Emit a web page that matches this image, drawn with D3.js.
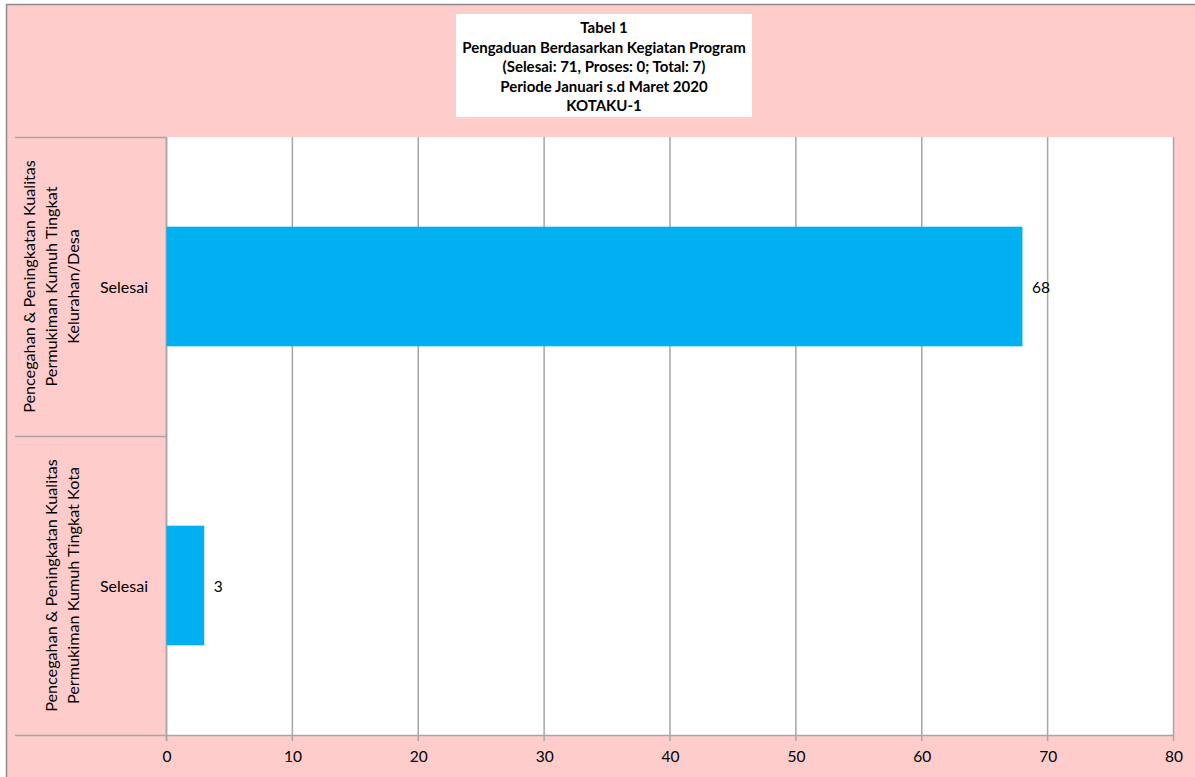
<!DOCTYPE html>
<html>
<head>
<meta charset="utf-8">
<script src="https://cdn.jsdelivr.net/npm/d3@7"></script>
<style>
  html, body { margin: 0; padding: 0; background: #ffffff; }
  svg { display: block; font-family: Lato, "Open Sans", sans-serif; }
</style>
</head>
<body>
<svg id="chart" width="1195" height="777"></svg>
<script>
// ---- Data ----
const titleLines = [
  "Tabel 1",
  "Pengaduan Berdasarkan Kegiatan Program",
  "(Selesai: 71, Proses: 0; Total: 7)",
  "Periode Januari s.d Maret 2020",
  "KOTAKU-1"
];
const categories = [
  "Pencegahan & Peningkatan Kualitas Permukiman Kumuh Tingkat Kelurahan/Desa",
  "Pencegahan & Peningkatan Kualitas Permukiman Kumuh Tingkat Kota"
];
const categoryLines = [
  ["Pencegahan & Peningkatan Kualitas", "Permukiman Kumuh Tingkat", "Kelurahan/Desa"],
  ["Pencegahan & Peningkatan Kualitas", "Permukiman Kumuh Tingkat Kota"]
];
const statusLabels = ["Selesai"];
const values = [68, 3];
const xTicks = [0, 10, 20, 30, 40, 50, 60, 70, 80];

// ---- Layout ----
const W = 1195, H = 777;
const plot = { left: 166, right: 1173, top: 137, bottom: 735 };
const labelLeft = 15;
const pink = "#FFCCCC", gridCol = "#A6A6A6", barCol = "#00B0F0";

const svg = d3.select("#chart");

// outer background
svg.append("rect").attr("x", 6).attr("y", 4).attr("width", W - 6).attr("height", H - 4).attr("fill", pink);
svg.append("line").attr("x1", 6).attr("x2", W).attr("y1", 4.5).attr("y2", 4.5).attr("stroke", "#8c8c8c").attr("stroke-width", 1.5);
svg.append("line").attr("x1", 6.5).attr("x2", 6.5).attr("y1", 4).attr("y2", H).attr("stroke", "#8c8c8c").attr("stroke-width", 1.5);

// title box
svg.append("rect").attr("x", 456).attr("y", 14).attr("width", 296).attr("height", 103).attr("fill", "#ffffff");
svg.append("g").selectAll("text").data(titleLines).join("text")
  .attr("x", 604)
  .attr("y", (d, i) => 27 + i * 19.6)
  .attr("text-anchor", "middle")
  .attr("dominant-baseline", "central")
  .attr("font-weight", "bold")
  .attr("font-size", 15)
  .attr("fill", "#000")
  .text(d => d);

// plot area
svg.append("rect").attr("x", plot.left).attr("y", plot.top)
  .attr("width", plot.right - plot.left).attr("height", plot.bottom - plot.top).attr("fill", "#ffffff");

// scales
const x = d3.scaleLinear().domain([0, 80]).range([plot.left, plot.right]);
const y = d3.scaleBand().domain(categories).range([plot.top, plot.bottom]).padding(0);
const yInner = d3.scaleBand().domain(statusLabels).range([0, y.bandwidth()]).paddingInner(0.6).paddingOuter(0.3);

// gridlines + tick marks
svg.append("g").selectAll("line").data(xTicks).join("line")
  .attr("x1", d => x(d) + 0.5).attr("x2", d => x(d) + 0.5)
  .attr("y1", plot.top).attr("y2", plot.bottom + 6)
  .attr("stroke", gridCol).attr("stroke-width", 1.5);

// x axis (tick labels)
const xAxis = d3.axisBottom(x).tickValues(xTicks).tickSize(0).tickPadding(0);
const gx = svg.append("g").attr("transform", `translate(0.5,${plot.bottom})`).call(xAxis);
gx.select(".domain").remove();
gx.selectAll("text")
  .attr("y", 22).attr("dy", "0.32em")
  .attr("font-family", "Lato, 'Open Sans', sans-serif")
  .attr("font-size", 15.5).attr("fill", "#000");

// category separator lines (left region)
const seps = [plot.top, ...categories.map(c => y(c) + y.bandwidth())];
svg.append("g").selectAll("line").data(seps).join("line")
  .attr("x1", labelLeft).attr("x2", (d, i) => i === seps.length - 1 ? plot.right : plot.left)
  .attr("y1", d => d + 0.5).attr("y2", d => d + 0.5)
  .attr("stroke", gridCol).attr("stroke-width", 1.5);

// left axis line
svg.append("line").attr("x1", plot.left + 0.5).attr("x2", plot.left + 0.5)
  .attr("y1", plot.top).attr("y2", plot.bottom + 6)
  .attr("stroke", gridCol).attr("stroke-width", 1.5);

// bars
const rows = categories.map((c, i) => ({ cat: c, lines: categoryLines[i], status: statusLabels[0], value: values[i] }));
svg.append("g").selectAll("rect").data(rows).join("rect")
  .attr("x", x(0) + 0.5)
  .attr("y", d => y(d.cat) + yInner(d.status))
  .attr("width", d => x(d.value) - x(0))
  .attr("height", yInner.bandwidth())
  .attr("fill", barCol);

// value labels
svg.append("g").selectAll("text").data(rows).join("text")
  .attr("x", d => x(d.value) + 10)
  .attr("y", d => y(d.cat) + yInner(d.status) + yInner.bandwidth() / 2)
  .attr("dominant-baseline", "central")
  .attr("font-size", 15.5).attr("fill", "#000")
  .text(d => d.value);

// status labels (inner category)
svg.append("g").selectAll("text").data(rows).join("text")
  .attr("x", 124)
  .attr("y", d => y(d.cat) + y.bandwidth() / 2)
  .attr("text-anchor", "middle")
  .attr("dominant-baseline", "central")
  .attr("font-size", 16).attr("fill", "#000")
  .text(d => d.status);

// rotated outer category labels
const catG = svg.append("g").selectAll("g").data(rows).join("g")
  .attr("transform", d => `translate(0,${y(d.cat) + y.bandwidth() / 2})`);
catG.each(function(d) {
  const n = d.lines.length;
  d3.select(this).selectAll("text").data(d.lines).join("text")
    .attr("transform", (t, i) => `translate(${72 - (n - 1 - i) * 22},0) rotate(-90)`)
    .attr("text-anchor", "middle")
    .attr("dominant-baseline", "central")
    .attr("font-size", 16.2).attr("fill", "#000")
    .text(t => t);
});
</script>
</body>
</html>
